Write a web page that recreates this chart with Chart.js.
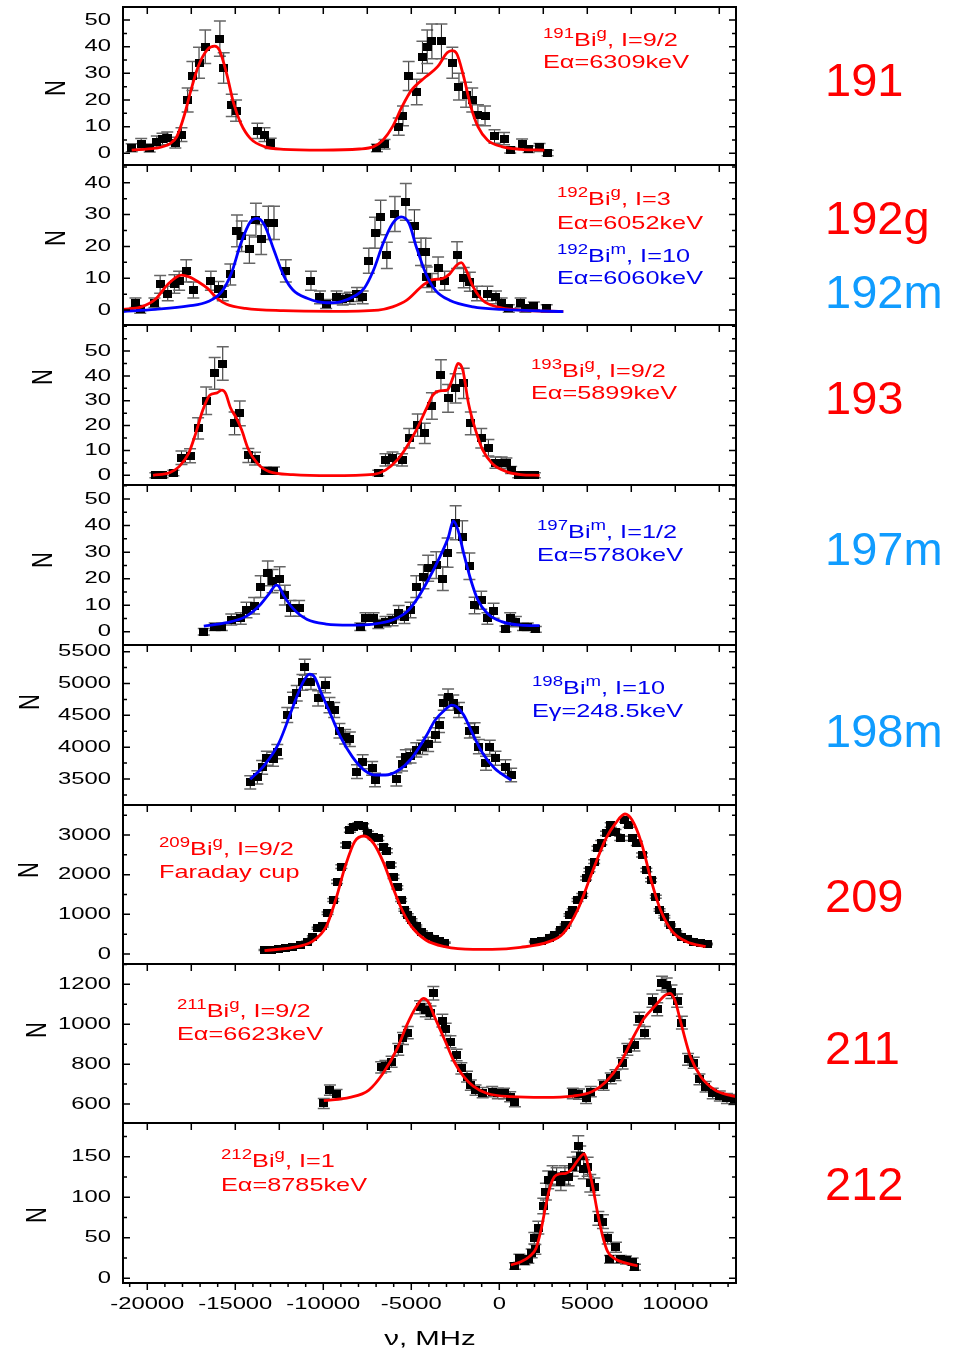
<!DOCTYPE html>
<html lang="en">
<head>
  <meta charset="UTF-8">
  <title>Bi isotopes – hfs spectra</title>
  <script src="https://cdn.jsdelivr.net/npm/chart.js"></script>
  <style>
    body { margin: 0; background: #fff; }
    #wrap { position: relative; width: 953px; height: 1349px; overflow: hidden; }
    canvas { position: absolute; left: 0; }
    .ann {
      position: absolute;
      font: 19px 'Liberation Sans', Arial, sans-serif;
      line-height: 19px;
      white-space: nowrap;
      transform: scaleX(1.33);
      transform-origin: 0 0;
    }
    .ann .sup { font-size: 14px; position: relative; top: -8px; }
    .red { color: #ff0000; }
    .blue { color: #0000ee; }
    .big {
      position: absolute;
      left: 825px;
      font: 47px 'Liberation Sans', Arial, sans-serif;
      line-height: 47px;
      white-space: nowrap;
    }
    .big.r { color: #ff0000; }
    .big.b { color: #109cff; }
  </style>
</head>
<body>
  <div id="wrap">
    <!-- in-panel labels -->
    <div class="ann red" style="left:543px;top:30px"><span class="sup">191</span>Bi<span class="sup">g</span>, I=9/2</div>
    <div class="ann red" style="left:543px;top:52px">Eα=6309keV</div>

    <div class="ann red" style="left:557px;top:189px"><span class="sup">192</span>Bi<span class="sup">g</span>, I=3</div>
    <div class="ann red" style="left:557px;top:213px">Eα=6052keV</div>
    <div class="ann blue" style="left:557px;top:246px"><span class="sup">192</span>Bi<span class="sup">m</span>, I=10</div>
    <div class="ann blue" style="left:557px;top:268px">Eα=6060keV</div>

    <div class="ann red" style="left:531px;top:361px"><span class="sup">193</span>Bi<span class="sup">g</span>, I=9/2</div>
    <div class="ann red" style="left:531px;top:383px">Eα=5899keV</div>

    <div class="ann blue" style="left:537px;top:522px"><span class="sup">197</span>Bi<span class="sup">m</span>, I=1/2</div>
    <div class="ann blue" style="left:537px;top:545px">Eα=5780keV</div>

    <div class="ann blue" style="left:532px;top:678px"><span class="sup">198</span>Bi<span class="sup">m</span>, I=10</div>
    <div class="ann blue" style="left:532px;top:701px">Eγ=248.5keV</div>

    <div class="ann red" style="left:159px;top:839px"><span class="sup">209</span>Bi<span class="sup">g</span>, I=9/2</div>
    <div class="ann red" style="left:159px;top:862px">Faraday cup</div>

    <div class="ann red" style="left:177px;top:1001px"><span class="sup">211</span>Bi<span class="sup">g</span>, I=9/2</div>
    <div class="ann red" style="left:177px;top:1024px">Eα=6623keV</div>

    <div class="ann red" style="left:221px;top:1151px"><span class="sup">212</span>Bi<span class="sup">g</span>, I=1</div>
    <div class="ann red" style="left:221px;top:1175px">Eα=8785keV</div>

    <!-- isotope labels on the right -->
    <div class="big r" style="top:56px">191</div>
    <div class="big r" style="top:194px">192g</div>
    <div class="big b" style="top:268px">192m</div>
    <div class="big r" style="top:374px">193</div>
    <div class="big b" style="top:525px">197m</div>
    <div class="big b" style="top:707px">198m</div>
    <div class="big r" style="top:872px">209</div>
    <div class="big r" style="top:1024px">211</div>
    <div class="big r" style="top:1160px">212</div>
  </div>

  <script>
    // ---- shared x axis ----
    const X_MIN = -21380, X_MAX = 13450;
    const X_TICKS = [-20000, -15000, -10000, -5000, 0, 5000, 10000];

    // ---- y ticks per panel ----
    const Y191 = [0, 10, 20, 30, 40, 50];
    const Y192 = [0, 10, 20, 30, 40];
    const Y193 = [0, 10, 20, 30, 40, 50];
    const Y197 = [0, 10, 20, 30, 40, 50];
    const Y198 = [3500, 4000, 4500, 5000, 5500];
    const Y209 = [0, 1000, 2000, 3000];
    const Y211 = [600, 800, 1000, 1200];
    const Y212 = [0, 50, 100, 150];

    // ---- measured points [MHz, N, error] ----
    const PTS191 = [[-20886,2.1,1.5],[-20347,3.5,2],[-19862,2,1.5],[-19458,4.4,2.1],[-19135,5.2,2.3],[-18865,5.6,2.4],[-18407,4,2],[-18057,7,2.6],[-17706,20,4.5],[-17437,29,5.4],[-17060,34,5.8],[-16709,40,6.3],[-15874,43,6.6],[-15658,32,5.7],[-15200,18,4.2],[-14957,16,4],[-13745,8.4,2.9],[-13340,7,2.6],[-12990,3.7,1.9],
      [-6953,2,1.4],[-6522,3.4,1.8],[-5713,10,3.2],[-5471,14,3.7],[-5148,29,5.4],[-4689,23,4.8],[-4366,36,6],[-4096,40,6.3],[-3827,42,6.5],[-3288,42,6.5],[-2668,34,5.8],[-2291,25,5],[-1887,22,4.7],[-1536,20,4.5],[-1213,14.4,3.8],[-809,14,3.7],[-270,6.3,2.5],[270,5.5,2.3],[620,1.2,1.1],[1294,3.5,1.9],[1671,1.5,1.2],[2291,2.2,1.5],[2749,0.1,1]];
    const FIT191 = [[-20886,1.2],[-19539,1.9],[-18730,3.5],[-18326,6.2],[-17922,13.7],[-17518,23.7],[-17113,32.5],[-16574,39],[-16170,40.2],[-15901,38.7],[-15496,30],[-15092,18.7],[-14688,11.2],[-14149,5.6],[-13340,2.5],[-12262,1.5],[-10106,1.2],[-7950,1.6],[-7142,2.5],[-6603,5],[-6064,10],[-5525,17.5],[-4986,23.7],[-4177,28.7],[-3504,32.5],[-2965,37.7],[-2695,38.5],[-2426,37.5],[-2021,28.7],[-1617,17.5],[-1213,10],[-674,5],[135,2.5],[1213,1.5],[2560,1.2]];

    const PTS192 = [[-20671,2.3,1.5],[-20401,0.2,1.2],[-19593,2.3,1.5],[-19269,8.1,2.8],[-18838,5.2,2.3],[-18461,8.2,2.9],[-18191,9.2,3],[-17787,12.3,3.5],[-17383,6.3,2.5],[-16386,9.2,3],[-15954,6.5,2.5],[-15712,5.2,2.3],[-15281,11.2,3.3],[-14904,24.9,5],[-14634,23.2,4.8],[-14203,19.1,4.4],[-13826,28.3,5.3],[-13529,22.2,4.7],[-13125,27.4,5.2],[-12801,27.4,5.2],[-12128,12.3,3.5],[-10699,9.2,3],[-10187,4,2],[-9837,1.9,1.4],[-9244,4,2],[-8894,3.4,1.8],[-8489,3.7,1.9],[-8085,4.9,2.2],[-7762,4,2],
      [-7411,15.5,3.9],[-7061,24.3,4.9],[-6738,29.1,5.4],[-6387,17.2,4.1],[-5929,30.2,5.5],[-5309,34,5.8],[-4824,26.4,5.1],[-4447,18.3,4.3],[-4177,18.3,4.3],[-4123,10.3,3.2],[-3827,8.6,2.9],[-3477,13.1,3.6],[-3099,9.2,3],[-2399,17.3,4.2],[-2021,10.2,3.2],[-1671,8.9,3],[-1267,5.2,2.3],[-674,5.2,2.3],[-189,4,2],[135,2.3,1.5],[539,0.5,1.2],[1213,2.3,1.5],[1482,0.5,1.2],[1967,1.3,1.2],[2695,0.5,1.2]];
    const FIT192G = [[-21425,0.2],[-20347,1],[-19539,3.4],[-18865,7.9],[-18057,11],[-17652,10.5],[-17113,8.9],[-16574,6.8],[-16035,3.7],[-15496,1.8],[-14418,0.5],[-12262,-0.2],[-9567,-0.4],[-6872,0],[-6064,1],[-5255,3.1],[-4312,7.9],[-3773,9.6],[-3234,9.9],[-2830,11.3],[-2426,14.1],[-2156,14.9],[-1887,12.6],[-1482,7.3],[-943,3.1],[-135,1],[1213,0],[3638,-0.5]];
    const FIT192M = [[-21425,-0.5],[-19539,0.2],[-17652,1.3],[-16574,2.6],[-15766,5.8],[-15227,11.5],[-14688,20.9],[-14149,27.7],[-13745,28.8],[-13340,26.7],[-12801,18.8],[-12262,11],[-11723,6.3],[-10915,3.7],[-9837,2.3],[-9028,2.6],[-8220,4.4],[-7681,6.8],[-7142,12.6],[-6603,20.9],[-6064,27.2],[-5579,29.3],[-5121,27.2],[-4716,19.9],[-4177,11.5],[-3638,6.3],[-2830,3.1],[-1482,1],[135,0.2],[3638,-0.5]];

    const PTS193 = [[-19539,0,1],[-19135,0,1],[-18515,0.9,1.1],[-18057,7.1,2.7],[-17571,7.9,2.8],[-17113,18.9,4.3],[-16655,30,5.5],[-16170,41,6.4],[-15712,45,6.7],[-15038,20.9,4.6],[-14742,24.9,5],[-14257,8,2.8],[-13879,6.7,2.6],[-13259,1.9,1.4],[-12801,1.9,1.4],
      [-6872,0.9,1.1],[-6468,6.2,2.5],[-6064,6.8,2.6],[-5525,6.2,2.5],[-5121,14.9,3.9],[-4635,20.2,4.5],[-4231,16.9,4.1],[-3827,27.9,5.3],[-3315,40.2,6.3],[-2911,31,5.6],[-2479,35,5.9],[-2021,37,6.1],[-1617,20.9,4.6],[-1024,14.9,3.9],[-620,11.1,3.3],[-216,5.1,2.3],[135,5.1,2.3],[404,4.8,2.2],[674,2.1,1.4],[1078,0,1],[1617,0,1],[2021,0,1]];
    const FIT193 = [[-19674,0],[-18730,1.1],[-18191,3.5],[-17652,8.8],[-17248,16.9],[-16844,26.3],[-16440,32.3],[-16035,33.2],[-15766,34.3],[-15550,33],[-15281,27.3],[-14957,23.3],[-14634,18.2],[-14284,10.9],[-13745,4.8],[-13071,1.5],[-11723,0.3],[-9567,-0.1],[-7142,0.4],[-6468,2.1],[-5794,6.2],[-5255,11.5],[-4716,18.2],[-4177,26.3],[-3773,32.3],[-3369,34],[-2965,34.3],[-2614,39.7],[-2345,45],[-2075,42.4],[-1752,29],[-1348,18.2],[-943,10.2],[-404,4.8],[404,1.5],[1213,0.3],[2291,0]];

    const PTS197 = [[-16790,0,1.2],[-16170,1.9,1.4],[-15766,1.9,1.4],[-15227,4.6,2.1],[-14688,5,2.2],[-14364,8.2,2.9],[-13933,9.8,3.1],[-13556,17,4.1],[-13152,22,4.7],[-12882,19.1,4.4],[-12478,20,4.5],[-12181,13.8,3.7],[-11858,8.8,3],[-11373,8.8,3],
      [-7896,1.9,1.4],[-7600,5,2.2],[-7142,5,2.2],[-6872,2.9,1.7],[-6468,3.8,1.9],[-6064,4.4,2.1],[-5713,7.2,2.7],[-5390,5.4,2.3],[-5040,8.2,2.9],[-4716,17,4.1],[-4312,20.7,4.5],[-4042,23.9,4.9],[-3584,25.1,5],[-3207,20,4.5],[-2938,29.8,5.5],[-2479,41.1,6.4],[-2102,35.8,6],[-1698,24.7,5],[-1401,9.9,3.1],[-1024,11.9,3.4],[-674,5,2.2],[-323,7.9,2.8],[350,1.1,1.1],[620,5,2.2],[943,3.8,1.9],[1348,1.9,1.4],[1617,1.9,1.4],[2075,0.9,1.1]];
    const FIT197 = [[-16790,2.1],[-15496,3.4],[-14418,5.7],[-13610,10],[-13071,14.4],[-12667,17.6],[-12532,17.2],[-12262,13.8],[-11723,8.8],[-10915,4.6],[-9837,2.9],[-8489,2.5],[-7142,2.9],[-6064,4.4],[-5255,7.5],[-4716,11.9],[-4042,19.5],[-3369,28.3],[-2884,35.8],[-2614,41.8],[-2345,38.3],[-2021,29.5],[-1617,19.5],[-1213,11.9],[-674,6.9],[135,3.8],[1213,2.5],[2291,2.3]];

    const PTS198 = [[-14149,3448,105],[-13745,3526,105],[-13475,3683,108],[-13206,3825,110],[-12855,3809,110],[-12613,3929,112],[-12047,4505,118],[-11723,4741,120],[-11508,4846,122],[-11184,5018,124],[-11050,5254,126],[-10699,5029,124],[-10295,4767,120],[-9891,4977,122],[-9648,4662,120],[-9379,4584,118],[-9082,4259,115],[-8759,4165,114],[-8489,4123,114],[-8085,3615,108],[-7762,3772,110],[-7223,3668,108],[-7061,3484,105],
      [-5848,3495,105],[-5525,3736,110],[-5309,3851,110],[-5040,3861,110],[-4716,3956,112],[-4366,3997,112],[-4042,4045,113],[-3638,4191,114],[-3423,4348,116],[-3153,4699,120],[-2911,4793,120],[-2614,4699,120],[-2291,4584,118],[-1671,4259,115],[-1401,4270,115],[-1159,4008,112],[-755,3746,110],[-539,3997,112],[-216,3825,110],[350,3694,108],[674,3563,106]];
    const FIT198 = [[-14149,3495],[-13340,3720],[-12532,4060],[-11723,4636],[-11184,5003],[-10780,5149],[-10510,5107],[-10106,4846],[-9567,4505],[-9028,4165],[-8355,3851],[-7681,3641],[-7007,3563],[-6468,3563],[-5794,3626],[-4986,3825],[-4177,4165],[-3638,4427],[-3099,4584],[-2695,4662],[-2426,4636],[-2021,4505],[-1482,4191],[-943,3903],[-270,3668],[674,3484]];

    const PTS209 = [[-13340,101,10],[-12936,101,10],[-12532,126,11],[-12128,151,12],[-11723,185,14],[-11319,235,15],[-10915,311,18],[-10591,437,21],[-10322,647,25],[-10025,706,27],[-9756,1025,32],[-9433,1361,37],[-9217,1823,43],[-8974,2202,47],[-8705,2748,52],[-8489,3126,56],[-8274,3210,57],[-8004,3252,57],[-7735,3227,57],[-7465,3042,55],[-7142,2941,54],[-6872,2916,54],[-6603,2706,52],[-6387,2605,51],[-6172,2244,47],[-6010,1950,44],[-5794,1681,41],[-5579,1361,37],[-5390,1109,33],[-5201,983,31],[-4986,857,29],[-4716,706,27],[-4393,563,24],[-4042,454,21],[-3692,370,19],[-3369,328,18],[-3099,286,17],
      [2021,311,18],[2426,336,18],[2830,395,20],[3153,479,22],[3504,605,25],[3773,731,27],[3989,983,31],[4177,1109,33],[4447,1361,37],[4716,1487,39],[4932,1907,44],[5121,2118,46],[5390,2328,48],[5579,2664,52],[5794,2807,53],[6064,3042,55],[6333,3252,57],[6603,3084,56],[6872,2916,54],[7142,3378,58],[7357,3252,57],[7546,2916,54],[7816,2790,53],[8112,2496,50],[8355,2118,46],[8624,1865,43],[8894,1445,38],[9109,1109,33],[9379,941,31],[9702,731,27],[10052,563,24],[10376,437,21],[10699,370,19],[11050,311,18],[11454,269,16],[11804,252,16]];
    const FIT209 = [[-13340,84],[-11723,168],[-10645,311],[-9837,689],[-9298,1361],[-8759,2202],[-8220,2832],[-7681,2975],[-7142,2790],[-6603,2328],[-6064,1697],[-5525,1109],[-4986,689],[-4177,353],[-3099,185],[-1482,118],[-404,118],[1213,168],[2830,311],[3638,521],[4447,1109],[5255,2034],[6064,2916],[6603,3294],[7142,3529],[7546,3378],[8085,2790],[8624,1865],[9163,1109],[9837,563],[10645,311],[11723,185]];

    const PTS211 = [[-9972,603,25],[-9621,670,26],[-9244,648,25],[-6711,784,28],[-6468,790,28],[-6118,812,28],[-5740,874,30],[-5471,929,30],[-5201,958,31],[-4501,1085,33],[-4177,1071,33],[-3908,1058,33],[-3746,1155,34],[-3234,1018,32],[-3045,974,31],[-2776,912,30],[-2426,846,29],[-2156,779,28],[-1833,737,27],[-1617,695,26],[-1348,670,26],[-943,657,26],[-404,662,26],[-81,653,26],[270,653,26],[620,637,25],[889,612,25],
      [4177,653,26],[4528,650,26],[4932,628,25],[5201,662,26],[5929,695,26],[6333,729,27],[6603,745,27],[7007,804,28],[7277,874,30],[7681,896,30],[7950,1028,32],[8274,958,31],[8705,1118,33],[8974,1075,33],[9244,1205,35],[9513,1197,35],[9783,1163,34],[10106,1118,33],[10376,1008,32],[10726,824,29],[11050,807,28],[11373,724,27],[11723,687,26],[12128,653,26],[12532,640,25],[12936,628,25],[13340,623,25]];
    const FIT211 = [[-9972,617],[-8489,633],[-7411,670],[-6603,754],[-5794,879],[-5255,996],[-4716,1088],[-4312,1130],[-4042,1113],[-3638,1029],[-3099,921],[-2560,812],[-2021,737],[-1482,690],[-674,653],[674,637],[2560,633],[4177,640],[5255,662],[6064,712],[6872,804],[7681,946],[8220,1029],[8894,1096],[9433,1146],[9702,1155],[9972,1121],[10376,988],[10861,837],[11454,737],[12262,670],[13071,645],[13745,633]];

    const PTS212 = [[890,15.2,4],[1140,24.7,5],[1420,21.4,4.6],[1650,23.4,4.8],[1840,30.8,5.5],[1990,49.4,7],[2050,35.8,6],[2220,62.5,7.9],[2500,89.3,9.5],[2650,106.9,10.3],[2780,121.4,11],[3030,127.5,11.3],[3260,125.4,11.2],[3500,119.3,10.9],[3730,127.5,11.3],[3940,125.4,11.2],[4170,137.8,11.7],[4410,144,12],[4490,163.3,12.8],[4600,151,12.3],[4800,134.6,11.6],[5020,137.8,11.7],[5170,117.3,10.8],[5400,113.1,10.6],[5630,74,8.6],[5890,69.9,8.4],[6160,49.4,7],[6290,23.4,4.8],[6630,38.3,6.2],[6910,23.4,4.8],[7200,22.6,4.8],[7580,20.5,4.5],[7710,13.6,3.7]];
    const FIT212 = [[660,16.4],[1230,20.5],[1700,26.7],[2090,37],[2370,59.6],[2650,90.5],[2900,114],[3130,125.4],[3410,128.8],[3790,129.6],[4070,133.7],[4410,144],[4830,153.5],[5060,137.8],[5310,113.1],[5590,80.2],[5880,51.4],[6160,32.8],[6530,24.7],[7100,19.3],[7860,15.2]];

    const RED = '#ff0000', BLUE = '#0000ff';
    const FONT = "'Liberation Sans', Arial, sans-serif";
    const STRETCH = 1.4;   // the original figure is squeezed: text runs wide
    const PAD = 10;
    const PLOT_L = 123, PLOT_R = 736;

    const panels = [
      { top: 7,    bottom: 165,  ymin: -4.4, ymax: 54.9, ticks: Y191, minor: 5,   pts: PTS191, fits: [[FIT191, RED]],  nx: 57, ny: 88 },
      { top: 165,  bottom: 325,  ymin: -4.7, ymax: 45.6, ticks: Y192, minor: 5,   pts: PTS192, fits: [[FIT192M, BLUE], [FIT192G, RED]], nx: 57, ny: 238 },
      { top: 325,  bottom: 485,  ymin: -3.9, ymax: 60.5, ticks: Y193, minor: 5,   pts: PTS193, fits: [[FIT193, RED]],  nx: 44, ny: 377 },
      { top: 485,  bottom: 645,  ymin: -5,   ymax: 55.3, ticks: Y197, minor: 5,   pts: PTS197, fits: [[FIT197, BLUE]], nx: 44, ny: 560 },
      { top: 645,  bottom: 805,  ymin: 3092, ymax: 5605, ticks: Y198, minor: 250, pts: PTS198, fits: [[FIT198, BLUE]], nx: 31, ny: 702 },
      { top: 805,  bottom: 964,  ymin: -252, ymax: 3756, ticks: Y209, minor: 500, pts: PTS209, fits: [[FIT209, RED]],  nx: 30, ny: 870 },
      { top: 964,  bottom: 1123, ymin: 505,  ymax: 1302, ticks: Y211, minor: 100, pts: PTS211, fits: [[FIT211, RED]],  nx: 38, ny: 1030 },
      { top: 1123, bottom: 1283, ymin: -5.8, ymax: 191.7, ticks: Y212, minor: 25, pts: PTS212, fits: [[FIT212, RED]],  nx: 38, ny: 1215 }
    ];

    function wideText(ctx, s, x, y, align, size) {
      ctx.save();
      ctx.translate(x, y);
      ctx.scale(STRETCH, 1);
      ctx.font = size + 'px ' + FONT;
      ctx.textAlign = align;
      ctx.fillStyle = '#000';
      ctx.fillText(s, 0, 0);
      ctx.restore();
    }

    // error bars drawn under the squares
    const errBars = {
      id: 'errBars',
      beforeDatasetsDraw(chart, args, o) {
        const { ctx, chartArea: a } = chart;
        const ys = chart.scales.y;
        const meta = chart.getDatasetMeta(o.index);
        const data = chart.data.datasets[o.index].data;
        ctx.save();
        ctx.beginPath();
        ctx.rect(a.left, a.top, a.right - a.left, a.bottom - a.top);
        ctx.clip();
        meta.data.forEach((el, i) => {
          const r = data[i];
          const y1 = ys.getPixelForValue(r.y + r.e);
          const y2 = ys.getPixelForValue(r.y - r.e);
          ctx.strokeStyle = '#222';
          ctx.lineWidth = 1;
          ctx.beginPath();
          ctx.moveTo(el.x, y1); ctx.lineTo(el.x, y2);
          ctx.stroke();
          ctx.strokeStyle = '#666';
          ctx.lineWidth = 1.5;
          ctx.beginPath();
          ctx.moveTo(el.x - 6, y1); ctx.lineTo(el.x + 6, y1);
          ctx.moveTo(el.x - 6, y2); ctx.lineTo(el.x + 6, y2);
          ctx.stroke();
        });
        ctx.restore();
      }
    };

    // box, inward ticks, tick labels and titles
    const frame = {
      id: 'frame',
      afterDraw(chart, args, o) {
        const { ctx, chartArea: a } = chart;
        const xs = chart.scales.x, ys = chart.scales.y;
        ctx.save();
        ctx.strokeStyle = '#000';
        ctx.lineWidth = 1.5;
        ctx.beginPath();
        for (let v = Math.ceil(ys.min / o.minor) * o.minor; v <= ys.max; v += o.minor) {
          const py = ys.getPixelForValue(v);
          const len = o.ticks.includes(v) ? 7 : 4;
          ctx.moveTo(a.left, py); ctx.lineTo(a.left + len, py);
          ctx.moveTo(a.right, py); ctx.lineTo(a.right - len, py);
        }
        for (let v = -20000; v <= 12500; v += 2500) {
          const px = xs.getPixelForValue(v);
          ctx.moveTo(px, a.top); ctx.lineTo(px, a.top + 7);
        }
        if (o.last) {
          for (let v = -21000; v <= 13000; v += 1000) {
            const px = xs.getPixelForValue(v);
            ctx.moveTo(px, a.bottom); ctx.lineTo(px, a.bottom + (v % 5000 === 0 ? 7 : 4));
          }
        }
        ctx.stroke();
        ctx.lineWidth = 2;
        ctx.strokeRect(a.left, a.top, a.right - a.left, a.bottom - a.top);

        ctx.textBaseline = 'middle';
        o.ticks.forEach(v => wideText(ctx, String(v), 111, ys.getPixelForValue(v), 'right', 17));

        // y title
        ctx.save();
        ctx.translate(o.nx, o.ny);
        ctx.rotate(-Math.PI / 2);
        ctx.scale(1, 1.3);
        ctx.font = '22px ' + FONT;
        ctx.textAlign = 'center';
        ctx.textBaseline = 'middle';
        ctx.fillStyle = '#000';
        ctx.fillText('N', 0, 0);
        ctx.restore();

        if (o.last) {
          ctx.textBaseline = 'alphabetic';
          X_TICKS.forEach(v => wideText(ctx, String(v), xs.getPixelForValue(v), o.xLabelY, 'center', 17));
          wideText(ctx, 'ν, MHz', 430, o.titleY, 'center', 21);
        }
        ctx.restore();
      }
    };

    function squareMark() {
      const c = document.createElement('canvas');
      c.width = 9; c.height = 8;
      const g = c.getContext('2d');
      g.fillStyle = '#000';
      g.fillRect(0, 0, 9, 8);
      return c;
    }
    const MARK = squareMark();

    const wrap = document.getElementById('wrap');

    panels.forEach((p, i) => {
      const last = i === panels.length - 1;
      const cTop = p.top - PAD;
      const inner = p.bottom - p.top;
      const h = last ? 1349 - cTop : inner + 2 * PAD;
      const canvas = document.createElement('canvas');
      canvas.width = 953;
      canvas.height = h;
      canvas.style.top = cTop + 'px';
      canvas.style.width = '953px';
      canvas.style.height = h + 'px';
      wrap.insertBefore(canvas, wrap.firstChild);

      const datasets = p.fits.map(([fit, color]) => ({
        data: fit.map(([x, y]) => ({ x, y })),
        showLine: true,
        borderColor: color,
        borderWidth: 2.8,
        pointRadius: 0,
        cubicInterpolationMode: 'monotone'
      }));
      datasets.push({
        data: p.pts.map(([x, y, e]) => ({ x, y, e })),
        showLine: false,
        pointStyle: MARK,
        pointRadius: 4
      });

      new Chart(canvas, {
        type: 'scatter',
        data: { datasets },
        options: {
          responsive: false,
          maintainAspectRatio: false,
          devicePixelRatio: 1,
          animation: false,
          layout: { padding: { left: PLOT_L, right: 953 - PLOT_R, top: PAD, bottom: h - PAD - inner } },
          scales: {
            x: { type: 'linear', min: X_MIN, max: X_MAX, display: false },
            y: { type: 'linear', min: p.ymin, max: p.ymax, display: false }
          },
          plugins: {
            legend: { display: false },
            tooltip: { enabled: false },
            errBars: { index: datasets.length - 1 },
            frame: {
              ticks: p.ticks, minor: p.minor, last,
              nx: p.nx, ny: p.ny - cTop,
              xLabelY: 1309 - cTop, titleY: 1345 - cTop
            }
          }
        },
        plugins: [errBars, frame]
      });
    });
  </script>
</body>
</html>
